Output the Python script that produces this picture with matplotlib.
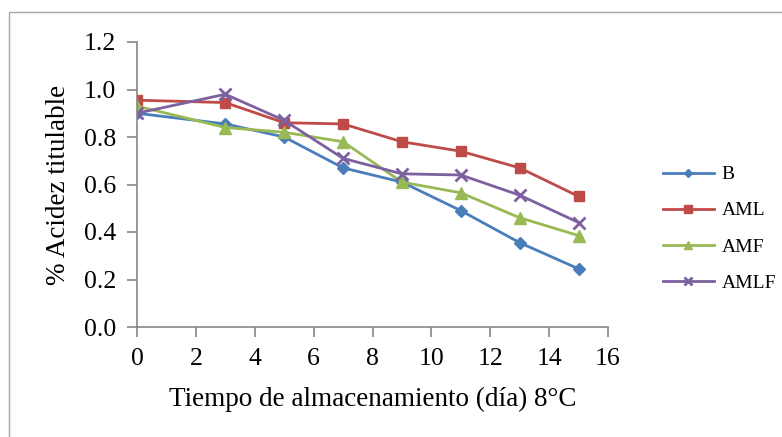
import matplotlib.pyplot as plt
from matplotlib.patches import Rectangle

# storage days and titratable acidity per treatment
dias = [0, 3, 5, 7, 9, 11, 13, 15]
acidez_b = [0.90, 0.855, 0.80, 0.67, 0.61, 0.49, 0.355, 0.245]
acidez_aml = [0.955, 0.945, 0.86, 0.855, 0.78, 0.74, 0.67, 0.55]
acidez_amf = [0.93, 0.84, 0.82, 0.78, 0.61, 0.565, 0.46, 0.385]
acidez_amlf = [0.90, 0.98, 0.87, 0.71, 0.645, 0.64, 0.555, 0.44]
series = ['B', 'AML', 'AMF', 'AMLF']

plt.rcParams['font.family'] = ['Liberation Serif', 'DejaVu Serif']

fig = plt.figure(figsize=(7.82, 4.37), dpi=100)
# chart border
fig.patches.append(Rectangle((9 / 782, -0.05), 1.0, 1 - 12 / 437 + 0.05,
                             transform=fig.transFigure, fill=False,
                             edgecolor='#a6a6a6', linewidth=1.0))

ax = fig.add_axes([137 / 782, 1 - 327 / 437, (608 - 137) / 782, (327 - 42) / 437])

ax.plot(dias, acidez_b, color='#4a7ebb', marker='D', markersize=6, linewidth=2, label=series[0])
ax.plot(dias, acidez_aml, color='#be4b48', marker='s', markersize=7.5, linewidth=2, label=series[1])
ax.plot(dias, acidez_amf, color='#98b954', marker='^', markersize=8.5, linewidth=2, label=series[2])
ax.plot(dias, acidez_amlf, color='#7d60a0', marker='x', markersize=8, markeredgewidth=2,
        linewidth=2, label=series[3])

ax.set_xlim(0, 16)
ax.set_ylim(0, 1.2)
ax.set_xticks(range(0, 17, 2))
ax.set_yticks([0.0, 0.2, 0.4, 0.6, 0.8, 1.0, 1.2])
ax.set_yticklabels(['0.0', '0.2', '0.4', '0.6', '0.8', '1.0', '1.2'])

for s in ['top', 'right']:
    ax.spines[s].set_visible(False)
for s in ['left', 'bottom']:
    ax.spines[s].set_color('#868686')
    ax.spines[s].set_linewidth(1.2)
ax.tick_params(axis='both', direction='out', length=7, width=1.2, color='#868686',
               labelsize=18.5, pad=8)

ax.set_xlabel('Tiempo de almacenamiento (día) 8°C', fontsize=19.5, labelpad=12)
ax.set_ylabel('% Acidez titulable', fontsize=19.5, labelpad=9)

ax.legend(loc='center left', bbox_to_anchor=(1.08, 0.345), frameon=False, fontsize=14,
          handlelength=2.6, labelspacing=0.95, handletextpad=0.4, markerscale=0.75)

fig.savefig('out.png', dpi=100)
